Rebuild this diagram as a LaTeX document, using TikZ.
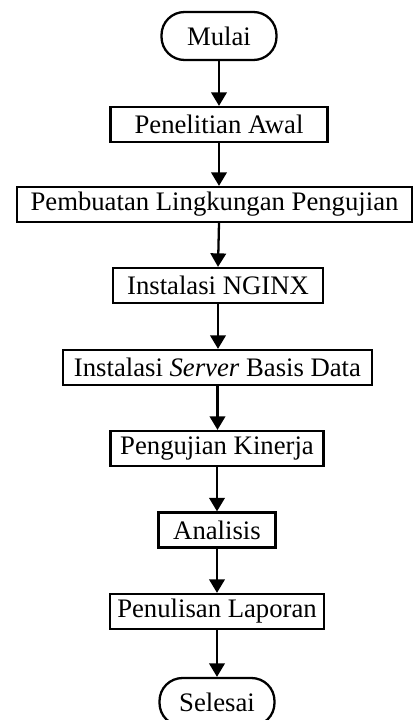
\documentclass[tikz,border=0pt]{standalone}
\usepackage{fontspec}
\setmainfont{Liberation Serif}
\usetikzlibrary{arrows.meta,positioning}

\begin{document}
\begin{tikzpicture}[x=0.02cm,y=-0.02cm,
  terminal/.style={rectangle,rounded corners=0.46cm,draw,line width=1.3pt,
                   minimum width=2.3cm,minimum height=0.96cm,
                   font=\fontsize{15.2}{18}\selectfont,inner sep=2pt},
  proses/.style={rectangle,draw,line width=1.3pt,minimum height=0.7cm,
                 font=\fontsize{15.2}{18}\selectfont,inner xsep=4pt,inner ysep=2pt},
  arr/.style={-{Triangle[length=0.27cm,width=0.31cm]},line width=1.3pt}
]
  \useasboundingbox (0,0) rectangle (414,720);

  % ---- Start and steps ------------------------------------------
  \node[terminal] (mulai) at (219,36) {Mulai};
  \node[proses,minimum width=4.34cm] (awal) at (219,124.5) {Penelitian Awal};
  \node[proses,minimum width=7.9cm] (lingkungan) at (214.5,204.5)
    {Pembuatan Lingkungan Pengujian};
  \node[proses,minimum width=4.2cm] (nginx) at (218,285.5) {Instalasi NGINX};
  \node[proses,minimum width=6.18cm] (server) at (217.5,367.5)
    {Instalasi \textit{Server} Basis Data};
  \node[proses,minimum width=4.26cm] (kinerja) at (217,448.5) {Pengujian Kinerja};
  \node[proses,minimum width=2.34cm] (analisis) at (217,530) {Analisis};
  \node[proses,minimum width=4.26cm] (laporan) at (217,611.5) {Penulisan Laporan};
  \node[terminal] (selesai) at (217,702) {Selesai};

  % ---- Arrows between steps -------------------------------------
  \draw[arr] (mulai.south) -- (mulai.south |- awal.north);
  \draw[arr] (awal.south) -- (awal.south |- lingkungan.north);
  \draw[arr] (awal.south |- lingkungan.south) -- (nginx.north);
  \draw[arr] (nginx.south) -- (nginx.south |- server.north);
  \draw[arr] (server.south) -- (server.south |- kinerja.north);
  \draw[arr] (kinerja.south) -- (kinerja.south |- analisis.north);
  \draw[arr] (analisis.south) -- (analisis.south |- laporan.north);
  \draw[arr] (laporan.south) -- (laporan.south |- selesai.north);

\end{tikzpicture}
\end{document}
